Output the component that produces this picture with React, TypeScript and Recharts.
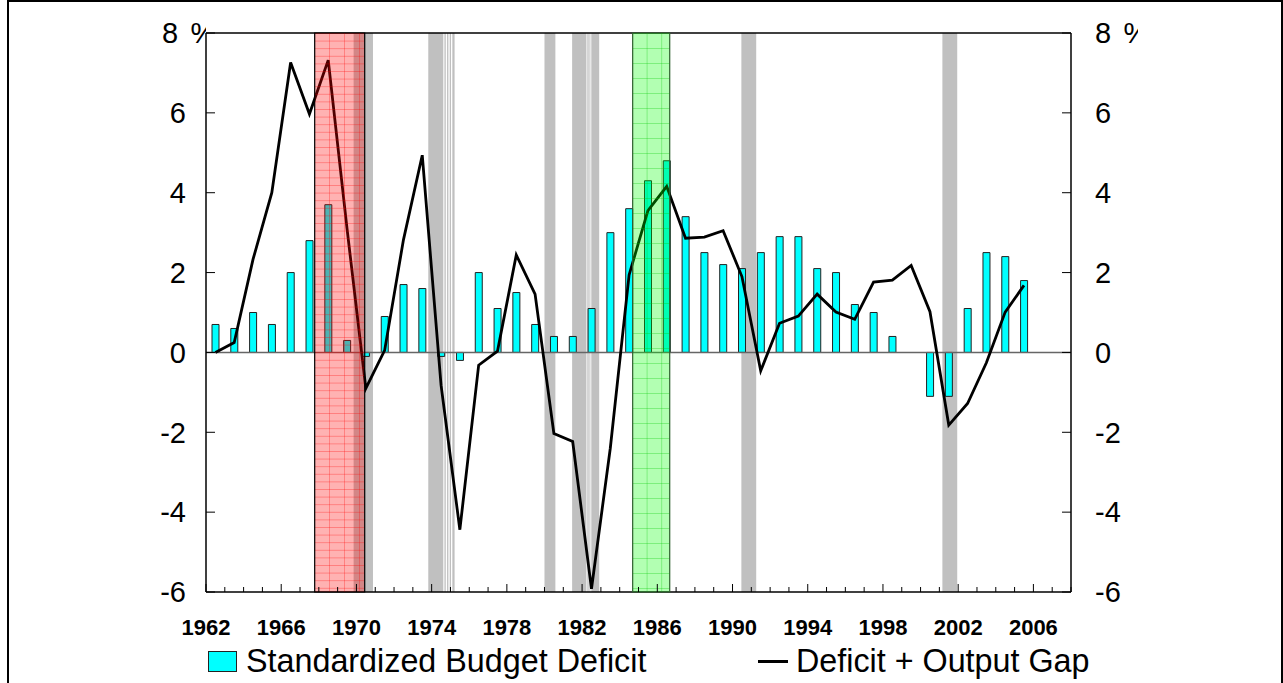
import React from "react";
import {
  ComposedChart,
  Bar,
  Line,
  XAxis,
  YAxis,
  ReferenceArea,
  ReferenceLine,
  Legend,
} from "recharts";

// years 1962-2005, one bar / one point each
const years = [
  1962, 1963, 1964, 1965, 1966, 1967, 1968, 1969, 1970, 1971, 1972, 1973, 1974, 1975, 1976,
  1977, 1978, 1979, 1980, 1981, 1982, 1983, 1984, 1985, 1986, 1987, 1988, 1989, 1990, 1991,
  1992, 1993, 1994, 1995, 1996, 1997, 1998, 1999, 2000, 2001, 2002, 2003, 2004, 2005,
];

const budgetDeficit = [
  0.7, 0.6, 1.0, 0.7, 2.0, 2.8, 3.7, 0.3, -0.1, 0.9, 1.7, 1.6, -0.1, -0.2, 2.0,
  1.1, 1.5, 0.7, 0.4, 0.4, 1.1, 3.0, 3.6, 4.3, 4.8, 3.4, 2.5, 2.2, 2.1, 2.5,
  2.9, 2.9, 2.1, 2.0, 1.2, 1.0, 0.4, 0, -1.1, -1.1, 1.1, 2.5, 2.4, 1.8,
];

const deficitPlusGap = [
  0.0, 0.25, 2.33, 4.0, 7.26, 5.97, 7.32, 3.1, -0.9, 0.05, 2.82, 4.94, -0.82, -4.44, -0.32,
  0.03, 2.44, 1.46, -2.03, -2.23, -5.92, -2.4, 1.94, 3.55, 4.16, 2.86, 2.89, 3.05, 1.9, -0.46,
  0.73, 0.91, 1.46, 1.01, 0.83, 1.76, 1.81, 2.18, 1.02, -1.82, -1.28, -0.26, 1.01, 1.68,
];

// recession shading (decimal years)
const recessions: [number, number][] = [
  [1969.85, 1970.88],
  [1973.82, 1974.62],
  [1974.68, 1974.75],
  [1974.82, 1974.89],
  [1974.96, 1975.03],
  [1975.1, 1975.22],
  [1980.0, 1980.58],
  [1981.47, 1982.23],
  [1982.28, 1982.35],
  [1982.39, 1982.44],
  [1982.49, 1982.91],
  [1990.47, 1991.26],
  [2001.16, 2001.95],
];

const redPeriod: [number, number] = [1967.78, 1970.44];
const greenPeriod: [number, number] = [1984.69, 1986.66];

const yTicks = [-6, -4, -2, 0, 2, 4, 6, 8];
const xTicks = Array.from({ length: 47 }, (_, i) => 1962 + i);

const data = years.map((y, i) => ({
  x: y + 0.5,
  deficit: budgetDeficit[i],
  gap: deficitPlusGap[i],
}));

const FONT = "'Liberation Sans', Arial, sans-serif";

const LeftTick = (props: any) => {
  const { x, y, payload } = props;
  const v = payload.value;
  return (
    <g>
      <line x1={x} y1={y} x2={x + 9} y2={y} stroke="#000" strokeWidth={1} />
      {v === 8 ? (
        <g>
          <clipPath id="clipLeftPct">
            <rect x={x - 60} y={y - 25} width={60} height={50} />
          </clipPath>
          <text x={x - 44} y={y} dy="0.355em" fontSize={29} fontFamily={FONT} fill="#000">
            8
          </text>
          <text x={x - 15.5} y={y} dy="0.355em" fontSize={29} fontFamily={FONT} fill="#000" clipPath="url(#clipLeftPct)">
            %
          </text>
        </g>
      ) : (
        <text x={x - 20} y={y} dy="0.355em" textAnchor="end" fontSize={29} fontFamily={FONT} fill="#000">
          {v}
        </text>
      )}
    </g>
  );
};

const RightTick = (props: any) => {
  const { x, y, payload } = props;
  const v = payload.value;
  return (
    <g>
      <line x1={x} y1={y} x2={x - 9} y2={y} stroke="#000" strokeWidth={1} />
      {v === 8 ? (
        <g>
          <clipPath id="clipRightPct">
            <rect x={x} y={y - 25} width={67} height={50} />
          </clipPath>
          <text x={x + 24} y={y} dy="0.355em" fontSize={29} fontFamily={FONT} fill="#000">
            8
          </text>
          <text x={x + 52.5} y={y} dy="0.355em" fontSize={29} fontFamily={FONT} fill="#000" clipPath="url(#clipRightPct)">
            %
          </text>
        </g>
      ) : (
        <text x={x + 24} y={y} dy="0.355em" textAnchor="start" fontSize={29} fontFamily={FONT} fill="#000">
          {v}
        </text>
      )}
    </g>
  );
};

const BottomTick = (props: any) => {
  const { x, y, payload } = props;
  const v = payload.value;
  const major = (v - 1962) % 4 === 0 && v <= 2006;
  return (
    <g>
      <line x1={x} y1={y} x2={x} y2={y - (major ? 8 : 5)} stroke="#000" strokeWidth={1} />
      {major && (
        <text x={x} y={y + 43} textAnchor="middle" fontSize={22} fontWeight="bold" fontFamily={FONT} fill="#000">
          {v}
        </text>
      )}
    </g>
  );
};

const LegendContent = () => (
  <div style={{ position: "relative", width: 1283, height: 45, fontFamily: FONT }}>
    <div
      style={{
        position: "absolute",
        left: 208,
        top: 13,
        width: 27,
        height: 19,
        background: "#00ffff",
        border: "1.5px solid #222",
      }}
    />
    <div style={{ position: "absolute", left: 246, top: 7, fontSize: 32.3, lineHeight: "32px", whiteSpace: "nowrap" }}>
      Standardized Budget Deficit
    </div>
    <div style={{ position: "absolute", left: 758, top: 22, width: 30, height: 2.5, background: "#000" }} />
    <div style={{ position: "absolute", left: 796, top: 7, fontSize: 32.3, lineHeight: "32px", whiteSpace: "nowrap" }}>
      Deficit + Output Gap
    </div>
  </div>
);

export default function App() {
  return (
    <div style={{ position: "absolute", left: 0, top: 0, width: 1283, height: 683, background: "#fff" }}>
      <div
        style={{
          position: "absolute",
          left: 7,
          top: 0,
          width: 1272,
          height: 690,
          borderTop: "2px solid #000",
          borderLeft: "2px solid #000",
          borderRight: "2px solid #000",
        }}
      />
      <ComposedChart
        width={1283}
        height={683}
        data={data}
        margin={{ top: 33, right: 0, bottom: 0, left: 0 }}
        style={{ position: "absolute", left: 0, top: 0 }}
      >
        <defs>
          <pattern id="redGrid" width={15} height={7.6} patternUnits="userSpaceOnUse" x={314} y={33}>
            <rect width={15} height={7.6} fill="rgba(255,0,0,0.3)" />
            <line x1={0} y1={0} x2={15} y2={0} stroke="rgba(255,0,0,0.55)" strokeWidth={1} />
            <line x1={0} y1={0} x2={0} y2={7.6} stroke="rgba(255,0,0,0.55)" strokeWidth={1} />
          </pattern>
          <pattern id="greenGrid" width={14.6} height={15} patternUnits="userSpaceOnUse" x={632} y={33}>
            <rect width={14.6} height={15} fill="rgba(0,255,0,0.3)" />
            <line x1={0} y1={0} x2={14.6} y2={0} stroke="rgba(0,200,0,0.6)" strokeWidth={1} />
            <line x1={0} y1={0} x2={0} y2={15} stroke="rgba(0,200,0,0.6)" strokeWidth={1} />
          </pattern>
        </defs>
        <XAxis
          dataKey="x"
          type="number"
          domain={[1962, 2008]}
          ticks={xTicks}
          interval={0}
          height={46}
          tickSize={0}
          tickMargin={0}
          tick={<BottomTick />}
          tickLine={false}
          axisLine={{ stroke: "#000", strokeWidth: 1.5 }}
          allowDataOverflow
        />
        <YAxis
          yAxisId="left"
          domain={[-6, 8]}
          ticks={yTicks}
          interval={0}
          width={206}
          tickSize={0}
          tickMargin={0}
          tick={<LeftTick />}
          tickLine={false}
          axisLine={{ stroke: "#000", strokeWidth: 1.5 }}
        />
        <YAxis
          yAxisId="right"
          orientation="right"
          domain={[-6, 8]}
          ticks={yTicks}
          interval={0}
          width={212}
          tickSize={0}
          tickMargin={0}
          tick={<RightTick />}
          tickLine={false}
          axisLine={{ stroke: "#000", strokeWidth: 1.5 }}
        />
        {recessions.map(([a, b], i) => (
          <ReferenceArea key={"r" + i} yAxisId="left" x1={a} x2={b} y1={-6} y2={8} fill="#c0c0c0" fillOpacity={1} stroke="none" />
        ))}
        <ReferenceLine yAxisId="left" y={0} stroke="#666" strokeWidth={1.5} />
        <Bar
          yAxisId="left"
          dataKey="deficit"
          name="Standardized Budget Deficit"
          fill="#00ffff"
          stroke="#222"
          strokeWidth={1}
          barSize={7}
          isAnimationActive={false}
        />
        <Line
          yAxisId="right"
          dataKey="gap"
          name="Deficit + Output Gap"
          type="linear"
          stroke="#000"
          strokeWidth={2.8}
          dot={false}
          activeDot={false}
          isAnimationActive={false}
        />
        <ReferenceArea
          yAxisId="left"
          x1={redPeriod[0]}
          x2={redPeriod[1]}
          y1={-6}
          y2={8}
          fill="url(#redGrid)"
          fillOpacity={1}
          stroke="#000"
          strokeWidth={1.2}
          zIndex={1000}
        />
        <ReferenceArea
          yAxisId="left"
          x1={greenPeriod[0]}
          x2={greenPeriod[1]}
          y1={-6}
          y2={8}
          fill="url(#greenGrid)"
          fillOpacity={1}
          stroke="#2f5f2f"
          strokeWidth={1.2}
          zIndex={1000}
        />
        <ReferenceLine yAxisId="left" y={8} stroke="#000" strokeWidth={1.5} />
        <Legend verticalAlign="bottom" height={45} content={<LegendContent />} wrapperStyle={{ left: 0, bottom: 0 }} />
      </ComposedChart>
    </div>
  );
}
